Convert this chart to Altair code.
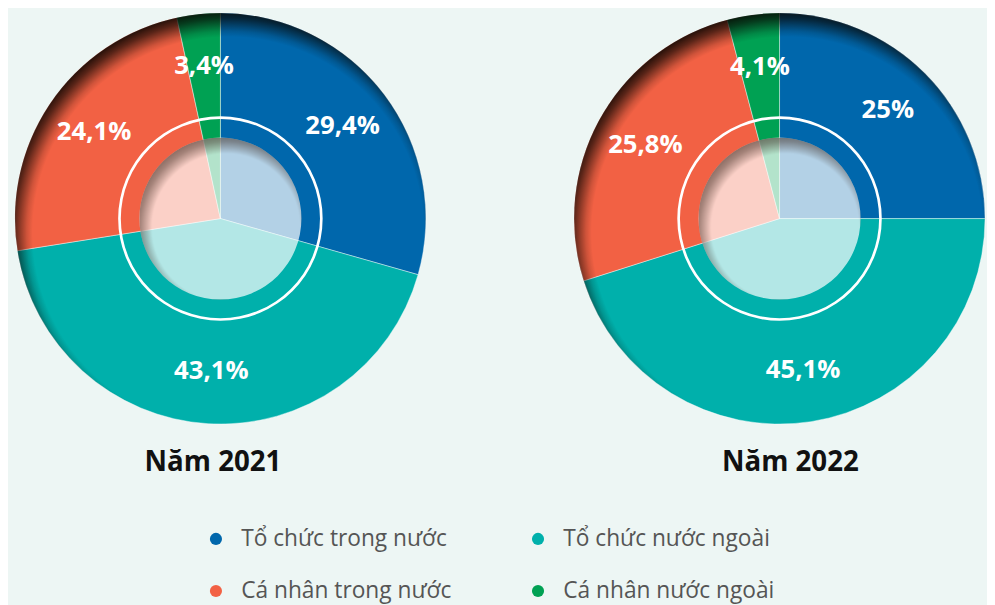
import math
import altair as alt
import pandas as pd

# ---- data ----
years = [2021, 2022]
titles = ["Năm 2021", "Năm 2022"]
categories = ["Tổ chức trong nước", "Tổ chức nước ngoài", "Cá nhân trong nước", "Cá nhân nước ngoài"]
colors = ["#0067ac", "#00b0ab", "#f26144", "#00a153"]
values_2021 = [29.4, 43.1, 24.1, 3.4]
values_2022 = [25.0, 45.1, 25.8, 4.1]
labels_2021 = ["29,4%", "43,1%", "24,1%", "3,4%"]
labels_2022 = ["25%", "45,1%", "25,8%", "4,1%"]

BG = "#edf6f4"
R_OUT = 208
R_IN = 82
PANEL_H = 419
TWO_PI = 2 * math.pi

color_enc = alt.Color(
    "cat:N",
    scale=alt.Scale(domain=categories, range=colors),
    legend=alt.Legend(
        orient="none", legendX=199, legendY=522, columns=2, direction="horizontal",
        title=None, symbolType="circle", symbolSize=150, symbolStrokeWidth=0,
        labelFontSize=23, labelFont="Open Sans", labelColor="#555555", labelLimit=400,
        columnPadding=76, rowPadding=29, labelOffset=14, padding=0,
    ),
)


def shadow_fill(cx, cy, r2, stops, color):
    return {
        "gradient": "radial", "x1": cx, "y1": cy, "r1": 0,
        "x2": cx, "y2": cy, "r2": r2,
        "stops": [{"offset": 0, "color": f"rgba({color},0)"}]
        + [{"offset": o, "color": f"rgba({color},{a})"} for o, a in stops],
    }


OUTER_SHADOW = shadow_fill(
    0.519, 0.534, 0.56,
    [(0.85, 0), (0.875, 0.15), (0.902, 0.4), (0.929, 0.65), (0.959, 0.85), (1.0, 0.9)],
    "8,4,0",
)
INNER_SHADOW = shadow_fill(
    0.535, 0.555, 0.57,
    [(0.80, 0), (0.86, 0.2), (0.93, 0.42), (1.0, 0.55)],
    "45,25,15",
)


def panel(vals, labs, title, width, title_x):
    df = pd.DataFrame({"cat": categories, "order": list(range(len(categories))),
                       "value": vals, "label": labs})
    tdf = pd.DataFrame({"title": [title]})
    base = alt.Chart(df)

    pie = base.mark_arc(radius=R_OUT, stroke="white", strokeWidth=0.7, strokeOpacity=0.6).encode(
        theta=alt.Theta("value:Q", stack=True),
        order=alt.Order("order:Q"),
        color=color_enc,
    )
    outer_shadow = alt.Chart(tdf).mark_arc(
        radius=R_OUT, theta=0, theta2=TWO_PI, fill=OUTER_SHADOW,
    ).encode(opacity=alt.value(1))
    inner_white = alt.Chart(tdf).mark_arc(
        radius=R_IN, theta=0, theta2=TWO_PI, fill="white", fillOpacity=0.7
    ).encode(opacity=alt.value(1))
    inner_shadow = alt.Chart(tdf).mark_arc(
        radius=R_IN, theta=0, theta2=TWO_PI, fill=INNER_SHADOW,
    ).encode(opacity=alt.value(1))
    ring = alt.Chart(tdf).mark_arc(
        radius=103.5, radius2=100.8, theta=0, theta2=TWO_PI, fill="white"
    ).encode(opacity=alt.value(1))
    text = base.mark_text(
        radius=155, font="Open Sans", fontSize=26, fontWeight="bold", color="white",
        align="center", baseline="middle",
    ).encode(
        theta=alt.Theta("value:Q", stack=True),
        order=alt.Order("order:Q"),
        text="label:N",
    )
    ttl = alt.Chart(tdf).mark_text(
        font="Open Sans", fontSize=28, fontWeight="bold", color="#111111",
        align="center", baseline="middle",
    ).encode(x=alt.value(title_x), y=alt.value(457), text="title:N")

    return alt.layer(pie, outer_shadow, inner_white, inner_shadow, ring, text, ttl).properties(
        width=width, height=PANEL_H
    )


left = panel(values_2021, labels_2021, titles[0], 430, 207.5)
right = panel(values_2022, labels_2022, titles[1], 416, 219)

chart = alt.hconcat(left, right, spacing=141).properties(
    padding=0
).configure(background=BG).configure_view(stroke=None)

chart.save("out.html", embed_options={"renderer": "svg", "actions": False})
